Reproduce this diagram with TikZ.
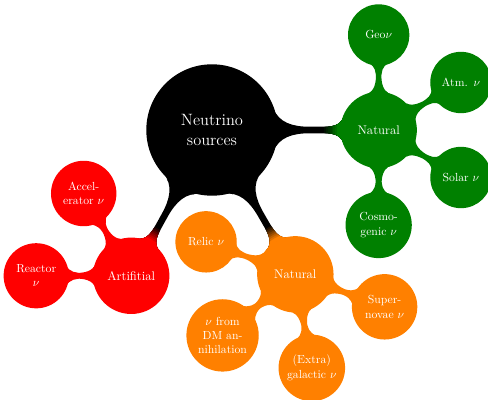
\documentclass[tikz,border=0pt]{standalone}
\usetikzlibrary{mindmap,backgrounds,calc}
\colorlet{natgreen}{green!50!black}
\colorlet{natorange}{orange}
\colorlet{artred}{red}
\tikzset{
  rootc/.style={concept, concept color=black, minimum size=3.9cm, text width=3.5cm,
    font=\fontsize{14}{17.5}\selectfont, text=white},
  lvone/.style={concept, minimum size=2.25cm, text width=2cm,
    font=\fontsize{10.7}{13}\selectfont, text=white},
  lvtwo/.style={concept, minimum size=1.77cm, text width=1.7cm,
    font=\fontsize{10}{12.2}\selectfont, text=white},
}
% bar between two nodes of one colour
\newcommand\samebar[3]{%
  \path (#1) to[circle connection bar switch color=from (#3) to (#3)] (#2);}
% bar from the root (black) to a level 1 node, colour switching close to the child
\newcommand\rootbar[2]{%
  \samebar{root}{#1}{black}%
  \foreach \k in {1,...,8}{%
    \pgfmathsetmacro\dd{1.125+0.5-(\k-1)*0.38/7}%
    \pgfmathtruncatemacro\pc{100*\k/8}%
    \edef\cc{#2!\pc!black}%
    \begin{scope}
      \clip (#1) circle (\dd cm);
      \samebar{root}{#1}{\cc}%
    \end{scope}
  }}
\begin{document}
\begin{tikzpicture}[mindmap]
\useasboundingbox (0,0) rectangle (14.64,11.97);
\node[rootc] (root) at (6.36,8.07) {Neutrino\\sources};
% level 1
\node[lvone, concept color=natgreen] (gnat) at ($(root)+(0:5cm)$) {Natural};
\node[lvone, concept color=natorange] (onat) at ($(root)+(-60:5cm)$) {Natural};
\node[lvone, concept color=artred] (art) at ($(root)+(-119:5cm)$) {Artifitial};
% level 2 green
\node[lvtwo, concept color=natgreen] (geo) at ($(gnat)+(90:2.85cm)$) {Geo$\nu$};
\node[lvtwo, concept color=natgreen] (atm) at ($(gnat)+(30:2.85cm)$) {Atm. $\nu$};
\node[lvtwo, concept color=natgreen] (sol) at ($(gnat)+(-30:2.85cm)$) {Solar $\nu$};
\node[lvtwo, concept color=natgreen] (cos) at ($(gnat)+(-90:2.85cm)$) {Cosmo-\\genic $\nu$};
% level 2 orange
\node[lvtwo, concept color=natorange] (rel) at ($(onat)+(160:2.85cm)$) {Relic $\nu$};
\node[lvtwo, concept color=natorange] (dm) at ($(onat)+(-140:2.85cm)$) {$\nu$ from\\DM an-\\nihilation};
\node[lvtwo, concept color=natorange] (gal) at ($(onat)+(-80:2.85cm)$) {(Extra)\\galactic $\nu$};
\node[lvtwo, concept color=natorange] (sup) at ($(onat)+(-20:2.85cm)$) {Super-\\novae $\nu$};
% level 2 red
\node[lvtwo, concept color=artred] (acc) at ($(art)+(120:2.85cm)$) {Accel-\\erator $\nu$};
\node[lvtwo, concept color=artred] (rea) at ($(art)+(180:2.85cm)$) {Reactor\\$\nu$};
% connections
\begin{pgfonlayer}{background}
\rootbar{gnat}{natgreen}
\rootbar{onat}{natorange}
\rootbar{art}{artred}
\samebar{gnat}{geo}{natgreen}
\samebar{gnat}{atm}{natgreen}
\samebar{gnat}{sol}{natgreen}
\samebar{gnat}{cos}{natgreen}
\samebar{onat}{rel}{natorange}
\samebar{onat}{dm}{natorange}
\samebar{onat}{gal}{natorange}
\samebar{onat}{sup}{natorange}
\samebar{art}{acc}{artred}
\samebar{art}{rea}{artred}
\end{pgfonlayer}
\end{tikzpicture}
\end{document}
